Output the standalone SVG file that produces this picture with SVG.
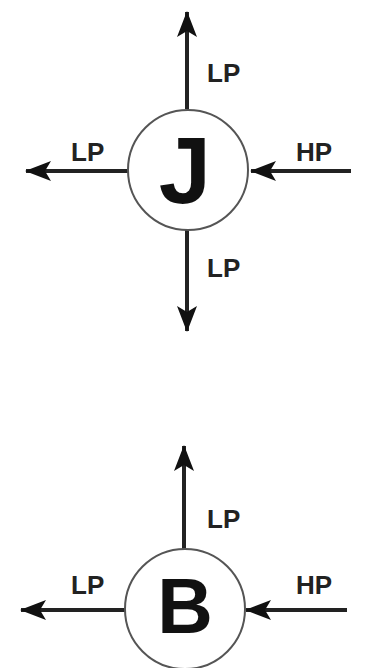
<svg xmlns="http://www.w3.org/2000/svg" width="365" height="668" viewBox="0 0 365 668">
<style>
.c{fill:#fff;stroke:#555;stroke-width:2}
.e{stroke:#222;stroke-width:4;fill:none;marker-end:url(#ah)}
.l{font-family:"Liberation Sans",Arial,sans-serif;font-weight:bold;font-size:26px;fill:#222}
.big{font-family:"Liberation Sans",Arial,sans-serif;font-weight:bold;fill:#111;text-anchor:middle}
</style>
<defs>
<marker id="ah" markerUnits="userSpaceOnUse" markerWidth="26" markerHeight="20" refX="25" refY="10" orient="auto">
<path d="M0,0 L26,10 L0,20 L6,10 Z" fill="#111"/>
</marker>
</defs>
<rect width="365" height="668" fill="#fff"/>
<g id="connectors">
<line class="e" x1="187" y1="109" x2="187" y2="12"/>
<line class="e" x1="128" y1="171" x2="26" y2="171"/>
<line class="e" x1="351" y1="171" x2="251" y2="171"/>
<line class="e" x1="187" y1="229" x2="187" y2="331"/>
<line class="e" x1="184" y1="549" x2="184" y2="446"/>
<line class="e" x1="125" y1="610" x2="21" y2="610"/>
<line class="e" x1="347" y1="610" x2="246" y2="610"/>
</g>
<g id="J">
<circle class="c" cx="188" cy="170" r="60"/>
<text class="big" x="185" y="203" font-size="94">J</text>
</g>
<g id="B">
<circle class="c" cx="185" cy="609" r="60"/>
<text class="big" x="185" y="633" font-size="77">B</text>
</g>
<g id="labels">
<text class="l" x="207" y="82">LP</text>
<text class="l" x="71" y="161">LP</text>
<text class="l" x="296" y="161">HP</text>
<text class="l" x="207" y="277">LP</text>
<text class="l" x="207" y="528">LP</text>
<text class="l" x="71" y="594">LP</text>
<text class="l" x="296" y="594">HP</text>
</g>
</svg>
